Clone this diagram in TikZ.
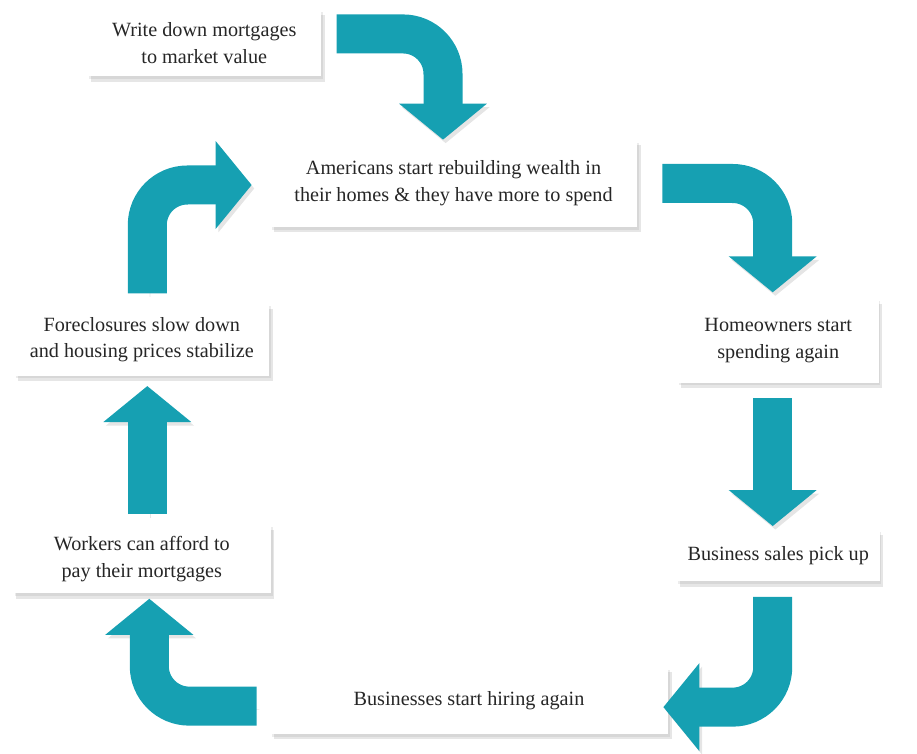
\documentclass[tikz,border=0pt]{standalone}
\usepackage{fontspec}
\setmainfont{Liberation Serif}
\usetikzlibrary{positioning,arrows.meta,shadows}
\definecolor{cycleteal}{RGB}{22,160,178}

\begin{document}
\begin{tikzpicture}[node distance=1.5cm,
                    %>=stealth',
                    box node/.style={fill=white, text=black!85, align=center,
                                     font=\rmfamily\fontsize{11.5}{15.2}\selectfont,
                                     drop shadow={shadow xshift=1pt, shadow yshift=-1.5pt, opacity=0.15},
                                     drop shadow={shadow xshift=2pt, shadow yshift=-3pt, opacity=0.2}},
                    flow arrow/.style={draw=cycleteal, line width=0.78cm, rounded corners=0.8cm,
                                       -{Triangle[width=1.72cm, length=0.72cm]},
                                       preaction={draw=black, opacity=0.1,
                                                  transform canvas={shift={(1.5pt,-2pt)}}}}]

  \useasboundingbox (0,0) rectangle (18.34,15.06);

  \node[box node, minimum width=7.34cm, minimum height=1.74cm] (amer) at (9.07,11.39)
    {Americans start rebuilding wealth in\\their homes \& they have more to spend};
  \node[box node, minimum width=4.68cm, minimum height=1.34cm] (write) [above left=1.26cm and -1.04cm of amer]
    {Write down mortgages\\to market value};
  \node[box node, minimum width=4.02cm, minimum height=1.68cm] (home) [below right=1.42cm and 0.8cm of amer]
    {Homeowners start\\spending again};
  \node[box node, minimum width=4.06cm, minimum height=1.04cm] (sales) [below=2.92cm of home]
    {Business sales pick up};
  \node[box node, minimum width=7.96cm, minimum height=1.34cm] (hire) [below left=1.7cm and 0.16cm of sales]
    {Businesses start hiring again};
  \node[box node, minimum width=5.1cm, minimum height=1.44cm] (fore) [below left=1.52cm and 0cm of amer]
    {Foreclosures slow down\\and housing prices stabilize};
  \node[box node, minimum width=5.16cm, minimum height=1.38cm] (work) [below=2.96cm of fore]
    {Workers can afford to\\pay their mortgages};

  % the cycle
  \draw[flow arrow] ([shift={(0.3,-0.5)}]write.north east) -| ([xshift=-0.21cm]amer.north);
  \draw[flow arrow] ([xshift=0.5cm]amer.east) -| ([shift={(-0.11,0.12)}]home.north);
  \draw[flow arrow] ([shift={(-0.11,-0.3)}]home.south) -- ([shift={(-0.11,0.06)}]sales.north);
  \draw[flow arrow] ([shift={(-0.11,-0.3)}]sales.south) |- ([shift={(-0.1,-0.13)}]hire.east);
  \draw[flow arrow] ([shift={(-0.26,-0.11)}]hire.west) -| ([shift={(0.15,-0.1)}]work.south);
  \draw[flow arrow] ([shift={(0.11,0.2)}]work.north) -- ([shift={(0.11,-0.2)}]fore.south);
  \draw[flow arrow] ([shift={(0.11,0.2)}]fore.north) |- ([shift={(-0.36,-0.03)}]amer.west);
\end{tikzpicture}
\end{document}
